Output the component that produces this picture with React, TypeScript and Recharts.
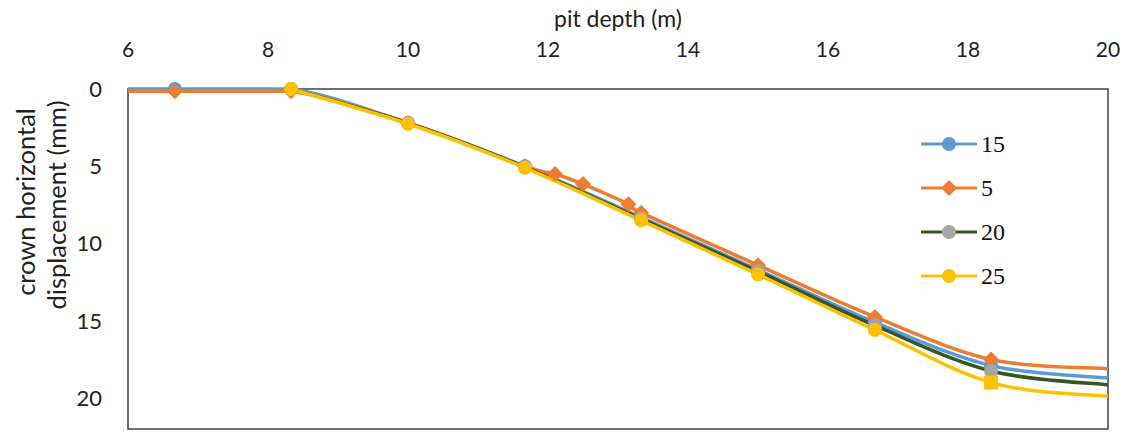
import { LineChart, Line, XAxis, YAxis, ReferenceArea } from "recharts";

// pit depth (m) for each series
const depthMain = [6, 6.67, 8.33, 10, 11.67, 13.33, 15, 16.67, 18.33, 20];
const depthFive = [6, 6.67, 8.33, 10, 11.67, 12.1, 12.5, 13.15, 13.33, 15, 16.67, 18.33, 20];
const depthLate = [8.33, 10, 11.67, 13.33, 15, 16.67, 18.33, 20];

// crown horizontal displacement (mm)
const disp15 = [0, 0, 0, 2.2, 5.0, 8.3, 11.7, 15.1, 17.9, 18.7];
const disp5 = [0.15, 0.15, 0.15, 2.2, 5.0, 5.5, 6.15, 7.45, 8.0, 11.4, 14.75, 17.5, 18.1];
const disp20 = [0, 2.2, 5.05, 8.4, 11.8, 15.3, 18.25, 19.15];
const disp25 = [0, 2.25, 5.1, 8.5, 12.0, 15.6, 19.0, 19.9];

const xTicks = [6, 8, 10, 12, 14, 16, 18, 20];
const yTicks = [0, 5, 10, 15, 20];

const toRows = (xs: number[], ys: number[]) => xs.map((x, i) => ({ x, y: ys[i] }));

const series = [
  { name: "15", data: toRows(depthMain, disp15), stroke: "#5B9BD5", marker: "#5B9BD5", shape: "circle" },
  { name: "5", data: toRows(depthFive, disp5), stroke: "#ED7D31", marker: "#ED7D31", shape: "diamond" },
  { name: "20", data: toRows(depthLate, disp20), stroke: "#375623", marker: "#A5A5A5", shape: "circle" },
  { name: "25", data: toRows(depthLate, disp25), stroke: "#FFC000", marker: "#FFC000", shape: "circle" },
];

const FONT = "Lato, 'Noto Sans', sans-serif";
const xTickFont = { fontFamily: FONT, fontSize: 21, fill: "#222" };
const yTickFont = { fontFamily: FONT, fontSize: 22, fill: "#222" };

// Excel-like smoothed line (Catmull-Rom), flat runs kept straight
const excelSmooth = (context: any) => {
  let pts: [number, number][] = [];
  return {
    areaStart() {},
    areaEnd() {},
    lineStart() {
      pts = [];
    },
    point(x: number, y: number) {
      pts.push([+x, +y]);
    },
    lineEnd() {
      if (!pts.length) return;
      context.moveTo(pts[0][0], pts[0][1]);
      for (let i = 0; i < pts.length - 1; i++) {
        const p0 = pts[i - 1] || pts[i];
        const p1 = pts[i];
        const p2 = pts[i + 1];
        const p3 = pts[i + 2] || p2;
        if (Math.abs(p1[1] - p2[1]) < 0.5) {
          context.lineTo(p2[0], p2[1]);
          continue;
        }
        context.bezierCurveTo(
          p1[0] + (p2[0] - p0[0]) / 6,
          p1[1] + (p2[1] - p0[1]) / 6,
          p2[0] - (p3[0] - p1[0]) / 6,
          p2[1] - (p3[1] - p1[1]) / 6,
          p2[0],
          p2[1]
        );
      }
    },
  };
};

const makeDot = (shape: string, fill: string, squareAt?: number) => (props: any) => {
  const { cx, cy, payload, index } = props;
  if (payload.x === 6 || payload.x === 20) return <g key={index} />;
  if (squareAt !== undefined && payload.x === squareAt) {
    return <rect key={index} x={cx - 7} y={cy - 7} width={14} height={14} fill={fill} />;
  }
  if (shape === "diamond") {
    return (
      <polygon
        key={index}
        points={`${cx},${cy - 8} ${cx + 8},${cy} ${cx},${cy + 8} ${cx - 8},${cy}`}
        fill={fill}
      />
    );
  }
  return <circle key={index} cx={cx} cy={cy} r={7} fill={fill} />;
};

const XTitle = () => (
  <text x={618} y={27} textAnchor="middle" fontFamily={FONT} fontSize={23} fill="#222">
    pit depth (m)
  </text>
);

const YTitle = () => (
  <g fontFamily={FONT} fontSize={25.5} fill="#222">
    <text x={25} y={202} transform="rotate(-90 25 202)" textAnchor="middle" dominantBaseline="central">
      crown horizontal
    </text>
    <text x={56} y={205} transform="rotate(-90 56 205)" textAnchor="middle" dominantBaseline="central">
      displacement  (mm)
    </text>
  </g>
);

const LegendBox = () => (
  <div
    style={{
      position: "absolute",
      left: 919,
      top: 122,
      fontFamily: "'Liberation Serif', serif",
      fontSize: 24,
      color: "#111",
    }}
  >
    {series.map((s) => (
      <div key={s.name} style={{ display: "flex", alignItems: "center", height: 44 }}>
        <svg width={60} height={20}>
          <line x1={2} y1={10} x2={58} y2={10} stroke={s.stroke} strokeWidth={3} />
          {s.shape === "diamond" ? (
            <polygon points="30,2 38,10 30,18 22,10" fill={s.marker} />
          ) : (
            <circle cx={30} cy={10} r={7} fill={s.marker} />
          )}
        </svg>
        <span style={{ marginLeft: 2 }}>{s.name}</span>
      </div>
    ))}
  </div>
);

export default function App() {
  return (
    <div style={{ position: "absolute", left: 0, top: 0, width: 1129, height: 432, background: "#fff" }}>
      <LineChart width={1129} height={432} margin={{ top: 0, right: 21, bottom: 3, left: 0 }}>
        <XAxis
          type="number"
          dataKey="x"
          orientation="top"
          domain={[6, 20]}
          ticks={xTicks}
          height={89}
          tickLine={false}
          tickSize={0}
          tickMargin={32}
          axisLine={false}
          tick={xTickFont}
          label={{ content: <XTitle /> }}
        />
        <YAxis
          type="number"
          dataKey="y"
          reversed
          domain={[0, 22]}
          ticks={yTicks}
          width={128}
          tickLine={false}
          tickSize={0}
          tickMargin={26}
          axisLine={false}
          tick={yTickFont}
          label={{ content: <YTitle /> }}
        />
        <ReferenceArea x1={6} x2={20} y1={0} y2={22} fill="none" stroke="#404040" strokeWidth={1.5} />
        {series.map((s) => (
          <Line
            key={s.name}
            data={s.data}
            dataKey="y"
            name={s.name}
            type={excelSmooth as any}
            stroke={s.stroke}
            strokeWidth={3.5}
            dot={makeDot(s.shape, s.marker, s.name === "25" ? 18.33 : undefined)}
            activeDot={false}
            isAnimationActive={false}
          />
        ))}
      </LineChart>
      <LegendBox />
    </div>
  );
}
